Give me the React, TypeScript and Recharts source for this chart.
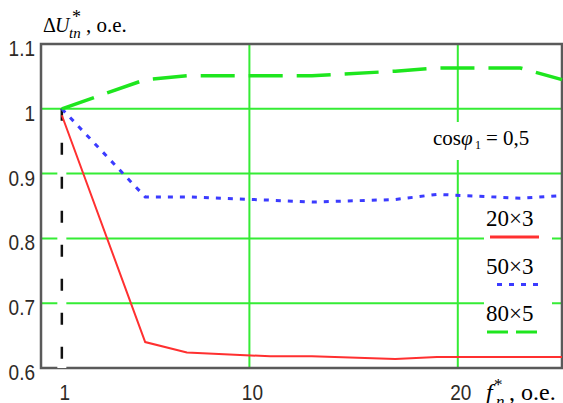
import React from 'react';
import {
  LineChart,
  Line,
  XAxis,
  YAxis,
  CartesianGrid,
  ReferenceLine,
  ReferenceArea,
  Legend,
} from 'recharts';

// harmonic numbers f*_n and voltage deviation for three cable sections
const harmonics = [1, 5, 7, 11, 13, 17, 19, 23, 25];
const dU20x3 = [0.99, 0.64, 0.624, 0.618, 0.618, 0.614, 0.617, 0.617, 0.617];
const dU50x3 = [1.0, 0.864, 0.864, 0.859, 0.856, 0.86, 0.868, 0.862, 0.866];
const dU80x5 = [1.0, 1.045, 1.051, 1.051, 1.051, 1.058, 1.063, 1.063, 1.045];

const seriesNames = ['20×3', '50×3', '80×5'];
const xTicks = [1, 10, 20];
const yTicks = [0.6, 0.7, 0.8, 0.9, 1, 1.1];
const gridX = [10, 20];
const gridY = [0.7, 0.8, 0.9, 1];

const data = harmonics.map((f, i) => ({
  f,
  s1: dU20x3[i],
  s2: dU50x3[i],
  s3: dU80x5[i],
}));

const series = [
  { key: 's1', name: seriesNames[0], color: '#ff3030', width: 2, dash: undefined, legendDash: undefined, sample: [6, 55] },
  { key: 's2', name: seriesNames[1], color: '#3b3bff', width: 3, dash: '5 7', legendDash: '5 7', sample: [13, 54] },
  { key: 's3', name: seriesNames[2], color: '#1ee61e', width: 3.5, dash: '34 14', legendDash: '21 8', sample: [3, 54] },
];

const serif = '"Liberation Serif", "Times New Roman", serif';
const sans = '"Liberation Sans", Arial, sans-serif';

function XTick({ x, y, payload }: any) {
  return (
    <text
      transform={`translate(${x + 3} ${y + 32}) scale(1 1.2)`}
      textAnchor="middle"
      fontFamily={sans}
      fontSize={19}
      fill="#2e2a26"
    >
      {payload.value}
    </text>
  );
}

function YTick({ x, y, payload }: any) {
  return (
    <text
      transform={`translate(${x} ${y + 12}) scale(1 1.2)`}
      textAnchor="end"
      fontFamily={sans}
      fontSize={19}
      fill="#2e2a26"
    >
      {payload.value}
    </text>
  );
}

function LegendBox({ payload }: any) {
  return (
    <svg width={68} height={140} style={{ background: '#fff', display: 'block' }}>
      {(payload || []).map((entry: any, i: number) => {
        const s = series.find((it) => it.key === entry.dataKey) || series[i];
        const top = i * 47.5;
        return (
          <g key={s.key}>
            <text x={2} y={top + 23} fontFamily={serif} fontSize={23} fill="#000">
              {entry.value}
            </text>
            <line
              x1={s.sample[0]}
              x2={s.sample[1]}
              y1={top + 34}
              y2={top + 34}
              stroke={s.color}
              strokeWidth={3}
              strokeDasharray={s.legendDash}
            />
          </g>
        );
      })}
    </svg>
  );
}

export default function App() {
  return (
    <div style={{ position: 'relative', width: 563, height: 403, background: '#fff' }}>
      <style>{'body{margin:0}'}</style>
      <LineChart width={563} height={403} data={data} margin={{ top: 44, right: 1, bottom: 5, left: 0 }}>
        <CartesianGrid
          horizontalValues={gridY}
          verticalValues={gridX}
          stroke="#35ec35"
          strokeWidth={2}
        />
        <XAxis
          dataKey="f"
          type="number"
          domain={[0, 25]}
          ticks={xTicks}
          height={30}
          tickSize={0}
          tickMargin={0}
          axisLine={false}
          tickLine={false}
          tick={<XTick />}
        />
        <YAxis
          type="number"
          domain={[0.6, 1.1]}
          ticks={yTicks}
          width={41}
          tickSize={0}
          tickMargin={6}
          axisLine={false}
          tickLine={false}
          tick={<YTick />}
        />
        <ReferenceArea x1={0} x2={25} y1={0.6} y2={1.1} fill="none" stroke="#5a5a5a" strokeWidth={2.5} />
        <ReferenceLine
          segment={[{ x: 1, y: 0.6 }, { x: 1, y: 0.96 }]}
          stroke="#fff"
          strokeWidth={9}
        />
        <ReferenceLine
          segment={[{ x: 1, y: 1 }, { x: 1, y: 0.6 }]}
          stroke="#111"
          strokeWidth={2.5}
          strokeDasharray="12 22"
        />
        {series.map((s) => (
          <Line
            key={s.key}
            dataKey={s.key}
            name={s.name}
            type="linear"
            stroke={s.color}
            strokeWidth={s.width}
            strokeDasharray={s.dash}
            dot={false}
            activeDot={false}
            isAnimationActive={false}
          />
        ))}
        <Legend
          layout="vertical"
          align="center"
          verticalAlign="middle"
          wrapperStyle={{ position: 'absolute', left: 484, top: 203, width: 68, height: 140 }}
          content={<LegendBox />}
        />
      </LineChart>
      <svg
        width={563}
        height={403}
        style={{ position: 'absolute', left: 0, top: 0, pointerEvents: 'none' }}
      >
        <g fontFamily={serif} fill="#000">
          <text x={43} y={32} fontSize={20}>Δ</text>
          <text x={55} y={32} fontSize={20} fontStyle="italic">U</text>
          <text x={72} y={23} fontSize={18}>*</text>
          <text x={69} y={38} fontSize={15} fontStyle="italic">tn</text>
          <text x={86} y={32} fontSize={21}>, o.e.</text>

          <rect x={426} y={122} width={126} height={38} fill="#fff" />
          <text x={433} y={145} fontSize={21}>cos</text>
          <text x={461} y={145} fontSize={21} fontStyle="italic">φ</text>
          <text x={475} y={149} fontSize={12}>1</text>
          <text x={486} y={145} fontSize={21}>= 0,5</text>

          <rect x={482} y={374} width={81} height={29} fill="#fff" />
          <text x={486} y={400} fontSize={24} fontStyle="italic">f</text>
          <text x={494} y={390} fontSize={17}>*</text>
          <text x={496} y={407} fontSize={17} fontStyle="italic">n</text>
          <text x={509} y={400} fontSize={24}>, o.e.</text>
        </g>
      </svg>
    </div>
  );
}
